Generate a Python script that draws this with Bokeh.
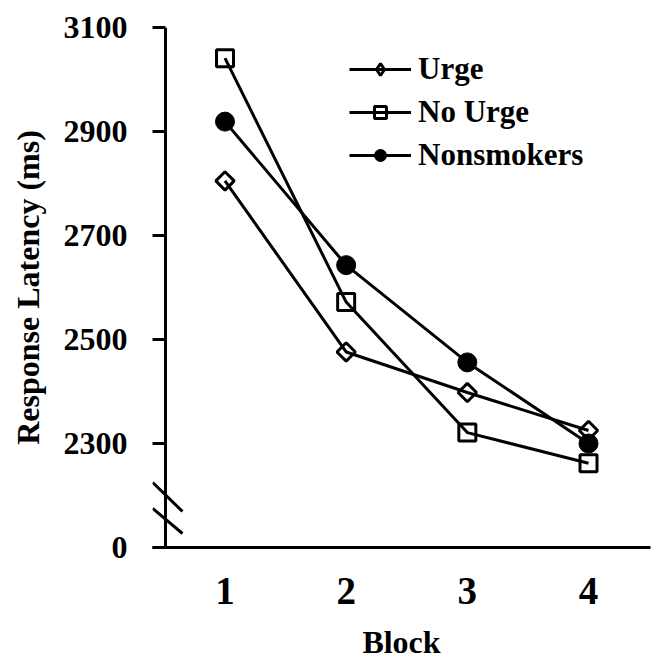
import numpy as np
from bokeh.plotting import figure
from bokeh.models import FixedTicker, Legend, Range1d
from bokeh.embed import file_html
from bokeh.resources import INLINE

blocks = [1, 2, 3, 4]
urge = [2805, 2476, 2398, 2325]
no_urge = [3041, 2572, 2321, 2262]
nonsmokers = [2919, 2643, 2456, 2300]
y_ticks = [2100, 2300, 2500, 2700, 2900, 3100]
y_tick_labels = ["0", "2300", "2500", "2700", "2900", "3100"]
x_ticks = [1, 2, 3, 4]
series_names = ["Urge", "No Urge", "Nonsmokers"]

FONT = "Liberation Serif"
X_START, X_END = 0.4018, 4.5116
Y_AXIS_AT = 0.509
Y_START, Y_END = 2100, 3100

p = figure(width=654, height=662, output_backend="svg", toolbar_location=None,
           x_range=Range1d(X_START, X_END), y_range=Range1d(Y_START, Y_END),
           min_border_left=152, min_border_right=4, min_border_top=27,
           min_border_bottom=115)
p.outline_line_color = None
p.xgrid.visible = False
p.ygrid.visible = False

# axes
p.yaxis.ticker = FixedTicker(ticks=y_ticks)
p.yaxis.major_label_overrides = {t: l for t, l in zip(y_ticks, y_tick_labels)}
p.xaxis.ticker = FixedTicker(ticks=x_ticks)
for ax in (p.xaxis, p.yaxis):
    ax.axis_line_width = 3
    ax.axis_line_color = "black"
    ax.major_tick_line_width = 3
    ax.minor_tick_line_color = None
    ax.major_label_text_font = FONT
    ax.major_label_text_font_style = "bold"
    ax.major_label_text_color = "black"
    ax.axis_label_text_font = FONT
    ax.axis_label_text_font_style = "bold"
    ax.axis_label_text_color = "black"
# the visible y-axis line sits a little inside the frame (drawn below)
p.yaxis.axis_line_color = None
p.yaxis.major_tick_in = 13
p.yaxis.major_tick_out = 0
p.yaxis.major_label_standoff = 25
p.yaxis.major_label_text_font_size = "32px"
p.yaxis.axis_label = "Response Latency (ms)"
p.yaxis.axis_label_text_font_size = "32px"
p.yaxis.axis_label_standoff = 15
p.xaxis.major_tick_in = 0
p.xaxis.major_tick_out = 0
p.xaxis.major_label_standoff = 30
p.xaxis.major_label_text_font_size = "39px"
p.xaxis.axis_label = "Block"
p.xaxis.axis_label_text_font_size = "32px"
p.xaxis.axis_label_standoff = 17

# y-axis line
p.segment([Y_AXIS_AT], [Y_START], [Y_AXIS_AT], [Y_END], line_width=3,
          line_color="black")

# axis break marks
px_x = (X_END - X_START) / 498
px_y = 1 / 0.52
brk_x0 = [X_START + 0.002, X_START + 0.002]
brk_x1 = [Y_AXIS_AT + 17 * px_x, Y_AXIS_AT + 17 * px_x]
brk_y0 = [Y_END - (482 - 27) * px_y, Y_END - (508 - 27) * px_y]
brk_y1 = [Y_END - (511 - 27) * px_y, Y_END - (533 - 27) * px_y]
p.segment(brk_x0, brk_y0, brk_x1, brk_y1, line_width=3, line_color="black")

# series
r1l = p.line(blocks, urge, line_width=3, color="black")
p.scatter(blocks, urge, marker="square", angle=np.pi / 4, size=13,
          fill_color=None, line_color="black", line_width=3)
r1leg = p.scatter(blocks, urge, marker="diamond", size=21, visible=False,
                  fill_color=None, line_color="black", line_width=3)
r2l = p.line(blocks, no_urge, line_width=3, color="black")
r2m = p.scatter(blocks, no_urge, marker="square", size=17,
                fill_color=None, line_color="black", line_width=3)
r3l = p.line(blocks, nonsmokers, line_width=3, color="black")
r3m = p.scatter(blocks, nonsmokers, marker="circle", size=19,
                fill_color="black", line_color="black", line_width=1)

legend = Legend(items=[(series_names[0], [r1l, r1leg]),
                       (series_names[1], [r2l, r2m]),
                       (series_names[2], [r3l, r3m])],
                location=(197, 374), glyph_width=62, glyph_height=30,
                label_height=30, spacing=7, padding=0, margin=0,
                label_standoff=7, border_line_color=None,
                background_fill_alpha=0,
                label_text_font=FONT, label_text_font_style="bold",
                label_text_font_size="31px", label_text_color="black")
p.add_layout(legend)

open("out.html", "w").write(file_html(p, INLINE))
